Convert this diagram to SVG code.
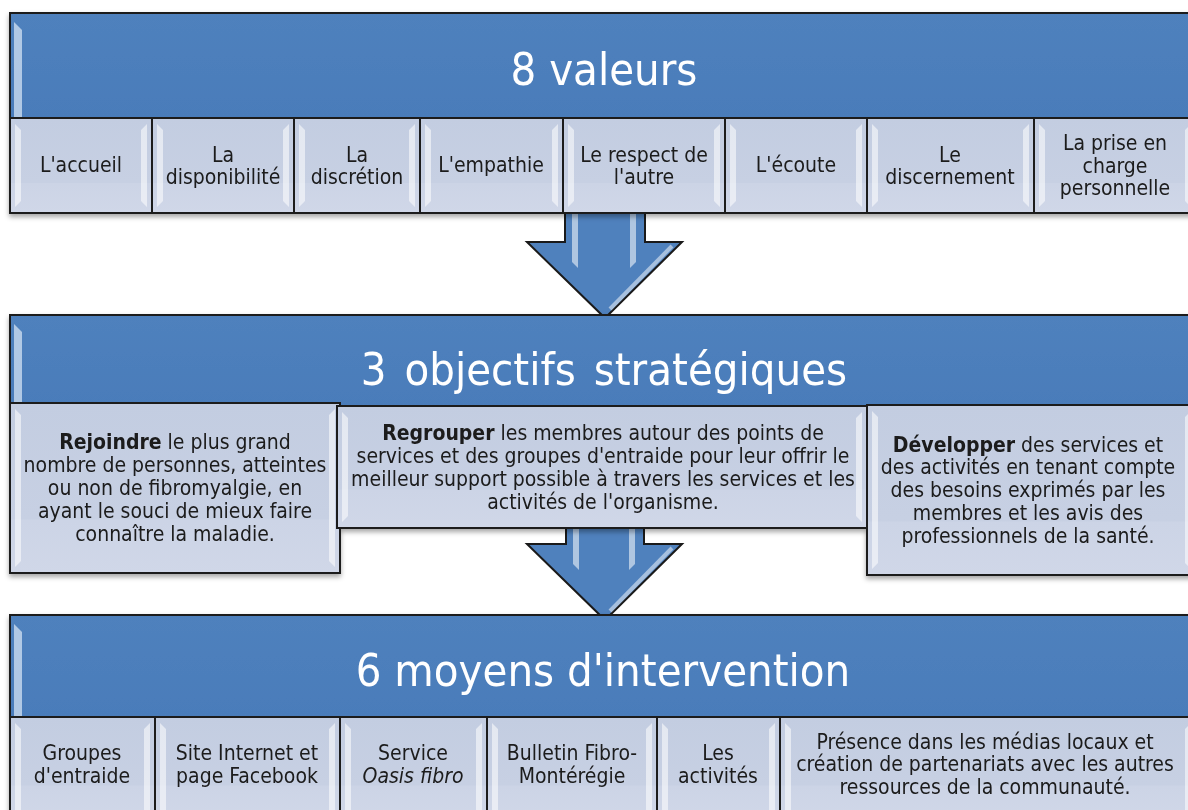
<svg xmlns="http://www.w3.org/2000/svg" width="1188" height="810" viewBox="0 0 1188 810">
  <defs>
    <linearGradient id="boxFill" x1="0" y1="0" x2="0" y2="1">
      <stop offset="0" stop-color="#c3cde1"/>
      <stop offset="0.68" stop-color="#c7d0e3"/>
      <stop offset="0.69" stop-color="#ccd4e6"/>
      <stop offset="1" stop-color="#d0d7e8"/>
    </linearGradient>
    <linearGradient id="headFill" x1="0" y1="0" x2="0" y2="1">
      <stop offset="0" stop-color="#4f81bd"/>
      <stop offset="1" stop-color="#4a7cba"/>
    </linearGradient>
    <filter id="shadow" x="-5%" y="-10%" width="110%" height="130%">
      <feDropShadow dx="0" dy="3" stdDeviation="2.5" flood-color="#000" flood-opacity="0.35"/>
    </filter>
  </defs>
  <style>
    .frame { stroke: #1a1a1a; stroke-width: 2; }
    .head { fill: url(#headFill); }
    .box { fill: url(#boxFill); }
    .hl { fill: #ffffff; opacity: 0.55; }
    .hh { fill: #dbe8f7; opacity: 0.7; }
    .arrow { fill: #4f81bd; stroke: #1a1a1a; stroke-width: 2; stroke-linejoin: miter; }
    .ahl { fill: none; stroke: #ffffff; stroke-opacity: 0.5; stroke-width: 4; }
    text { font-family: "DejaVu Sans Condensed", "DejaVu Sans", sans-serif; font-stretch: condensed; text-anchor: middle; }
    .t { font-size: 21px; fill: #1a1a1a; }
    .b { font-weight: bold; }
    .i { font-style: italic; }
    .h { font-size: 45px; fill: #ffffff; }
  </style>

  <rect width="1188" height="810" fill="#ffffff"/>

  <!-- connectors: the two block arrows between the sections -->
  <g id="connectors">
    <g id="arrow-1">
      <path class="arrow" d="M565 200 H645 V242 H682 L605 318 L527 242 H565 Z"/>
      <path class="hl" d="M572 214 H578 V268 L572 262 Z"/>
      <path class="hl" d="M630 214 H636 V262 L630 268 Z"/>
      <path class="ahl" d="M672 246 L610 309"/>
    </g>
    <g id="arrow-2">
      <path class="arrow" d="M566 500 H644 V544 H682 L605 620 L527 544 H566 Z"/>
      <path class="hl" d="M573 528 H579 V570 L573 564 Z"/>
      <path class="hl" d="M629 528 H635 V564 L629 570 Z"/>
      <path class="ahl" d="M672 548 L610 611"/>
    </g>
  </g>

  <!-- section 1: values -->
  <g id="values" filter="url(#shadow)">
    <g id="values-header">
      <rect class="head frame" x="10" y="13" width="1186" height="105"/>
      <path class="hh" d="M14 22 L22 30 V117 H14 Z"/>
      <text class="h" x="604" y="85">8 valeurs</text>
    </g>
    <g id="value-1">
      <rect class="box frame" x="10" y="118" width="142" height="95"/>
      <path class="hl" d="M15 124 L21 130 V201 L15 207 Z M147 124 L141 130 V201 L147 207 Z"/>
      <text class="t" x="81" y="172">L'accueil</text>
    </g>
    <g id="value-2">
      <rect class="box frame" x="152" y="118" width="142" height="95"/>
      <path class="hl" d="M157 124 L163 130 V201 L157 207 Z M289 124 L283 130 V201 L289 207 Z"/>
      <text class="t" x="223" y="162">La</text>
      <text class="t" x="223" y="184">disponibilité</text>
    </g>
    <g id="value-3">
      <rect class="box frame" x="294" y="118" width="126" height="95"/>
      <path class="hl" d="M299 124 L305 130 V201 L299 207 Z M415 124 L409 130 V201 L415 207 Z"/>
      <text class="t" x="357" y="162">La</text>
      <text class="t" x="357" y="184">discrétion</text>
    </g>
    <g id="value-4">
      <rect class="box frame" x="420" y="118" width="143" height="95"/>
      <path class="hl" d="M425 124 L431 130 V201 L425 207 Z M558 124 L552 130 V201 L558 207 Z"/>
      <text class="t" x="491" y="172">L'empathie</text>
    </g>
    <g id="value-5">
      <rect class="box frame" x="563" y="118" width="162" height="95"/>
      <path class="hl" d="M568 124 L574 130 V201 L568 207 Z M720 124 L714 130 V201 L720 207 Z"/>
      <text class="t" x="644" y="162">Le respect de</text>
      <text class="t" x="644" y="184">l'autre</text>
    </g>
    <g id="value-6">
      <rect class="box frame" x="725" y="118" width="142" height="95"/>
      <path class="hl" d="M730 124 L736 130 V201 L730 207 Z M862 124 L856 130 V201 L862 207 Z"/>
      <text class="t" x="796" y="172">L'écoute</text>
    </g>
    <g id="value-7">
      <rect class="box frame" x="867" y="118" width="167" height="95"/>
      <path class="hl" d="M872 124 L878 130 V201 L872 207 Z M1029 124 L1023 130 V201 L1029 207 Z"/>
      <text class="t" x="950" y="162">Le</text>
      <text class="t" x="950" y="184">discernement</text>
    </g>
    <g id="value-8">
      <rect class="box frame" x="1034" y="118" width="162" height="95"/>
      <path class="hl" d="M1039 124 L1045 130 V201 L1039 207 Z M1191 124 L1185 130 V201 L1191 207 Z"/>
      <text class="t" x="1115" y="150">La prise en</text>
      <text class="t" x="1115" y="173">charge</text>
      <text class="t" x="1115" y="195">personnelle</text>
    </g>
  </g>

  <!-- section 2: strategic objectives -->
  <g id="objectives" filter="url(#shadow)">
    <g id="objectives-header">
      <rect class="head frame" x="10" y="315" width="1186" height="92"/>
      <path class="hh" d="M14 324 L22 332 V405 H14 Z"/>
      <text class="h" x="604" y="385" word-spacing="5">3 objectifs stratégiques</text>
    </g>
    <g id="objective-1">
      <rect class="box frame" x="10" y="403" width="330" height="170"/>
      <path class="hl" d="M15 409 L21 415 V561 L15 567 Z M335 409 L329 415 V561 L335 567 Z"/>
      <text class="t" x="175" y="449"><tspan class="b">Rejoindre</tspan> le plus grand</text>
      <text class="t" x="175" y="472">nombre de personnes, atteintes</text>
      <text class="t" x="175" y="495">ou non de fibromyalgie, en</text>
      <text class="t" x="175" y="518">ayant le souci de mieux faire</text>
      <text class="t" x="175" y="541">connaître la maladie.</text>
    </g>
    <g id="objective-2">
      <rect class="box frame" x="337" y="406" width="530" height="122"/>
      <path class="hl" d="M342 412 L348 418 V516 L342 522 Z M862 412 L856 418 V516 L862 522 Z"/>
      <text class="t" x="603" y="440"><tspan class="b">Regrouper</tspan> les membres autour des points de</text>
      <text class="t" x="603" y="463">services et des groupes d'entraide pour leur offrir le</text>
      <text class="t" x="603" y="486">meilleur support possible à travers les services et les</text>
      <text class="t" x="603" y="509">activités de l'organisme.</text>
    </g>
    <g id="objective-3">
      <rect class="box frame" x="867" y="405" width="329" height="170"/>
      <path class="hl" d="M872 411 L878 417 V563 L872 569 Z M1191 411 L1185 417 V563 L1191 569 Z"/>
      <text class="t" x="1028" y="452"><tspan class="b">Développer</tspan> des services et</text>
      <text class="t" x="1028" y="474">des activités en tenant compte</text>
      <text class="t" x="1028" y="497">des besoins exprimés par les</text>
      <text class="t" x="1028" y="520">membres et les avis des</text>
      <text class="t" x="1028" y="543">professionnels de la santé.</text>
    </g>
  </g>

  <!-- section 3: means of intervention -->
  <g id="means" filter="url(#shadow)">
    <g id="means-header">
      <rect class="head frame" x="10" y="615" width="1186" height="102"/>
      <path class="hh" d="M14 624 L22 632 V716 H14 Z"/>
      <text class="h" x="603" y="686">6 moyens d'intervention</text>
    </g>
    <g id="means-1">
      <rect class="box frame" x="10" y="717" width="145" height="100"/>
      <path class="hl" d="M15 723 L21 729 V810 H15 Z M150 723 L144 729 V810 H150 Z"/>
      <text class="t" x="82" y="760">Groupes</text>
      <text class="t" x="82" y="783">d'entraide</text>
    </g>
    <g id="means-2">
      <rect class="box frame" x="155" y="717" width="185" height="100"/>
      <path class="hl" d="M160 723 L166 729 V810 H160 Z M335 723 L329 729 V810 H335 Z"/>
      <text class="t" x="247" y="760">Site Internet et</text>
      <text class="t" x="247" y="783">page Facebook</text>
    </g>
    <g id="means-3">
      <rect class="box frame" x="340" y="717" width="147" height="100"/>
      <path class="hl" d="M345 723 L351 729 V810 H345 Z M482 723 L476 729 V810 H482 Z"/>
      <text class="t" x="413" y="760">Service</text>
      <text class="t i" x="413" y="783">Oasis fibro</text>
    </g>
    <g id="means-4">
      <rect class="box frame" x="487" y="717" width="170" height="100"/>
      <path class="hl" d="M492 723 L498 729 V810 H492 Z M652 723 L646 729 V810 H652 Z"/>
      <text class="t" x="572" y="760">Bulletin Fibro-</text>
      <text class="t" x="572" y="783">Montérégie</text>
    </g>
    <g id="means-5">
      <rect class="box frame" x="657" y="717" width="123" height="100"/>
      <path class="hl" d="M662 723 L668 729 V810 H662 Z M775 723 L769 729 V810 H775 Z"/>
      <text class="t" x="718" y="760">Les</text>
      <text class="t" x="718" y="783">activités</text>
    </g>
    <g id="means-6">
      <rect class="box frame" x="780" y="717" width="416" height="100"/>
      <path class="hl" d="M785 723 L791 729 V810 H785 Z M1191 723 L1185 729 V810 H1191 Z"/>
      <text class="t" x="985" y="749">Présence dans les médias locaux et</text>
      <text class="t" x="985" y="771">création de partenariats avec les autres</text>
      <text class="t" x="985" y="794">ressources de la communauté.</text>
    </g>
  </g>
</svg>
